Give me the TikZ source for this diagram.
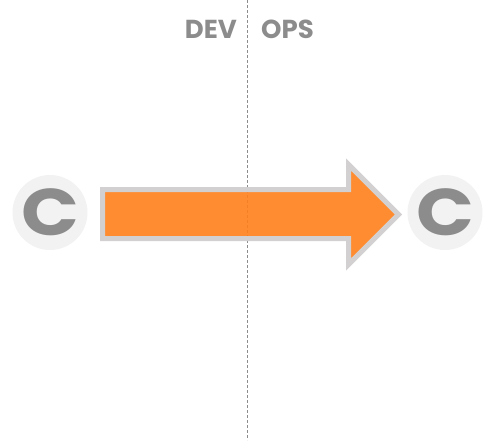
\documentclass[tikz,border=0pt]{standalone}
\usepackage{fontspec}
\setmainfont{Poppins}
\definecolor{dogray}{RGB}{140,140,140}
\definecolor{doorange}{RGB}{255,127,27}
\definecolor{doborder}{RGB}{210,208,208}
\definecolor{docircle}{RGB}{242,242,242}
\usetikzlibrary{positioning}

\begin{document}
\begin{tikzpicture}[x=1pt, y=-1pt]
    \tikzset{stagebox/.style={circle, fill=docircle, minimum size=75pt, inner sep=0pt}}
    \tikzset{stagelbl/.style={text=dogray, inner sep=0pt,
      font=\fontsize{66}{66}\selectfont\bfseries}}
    \tikzset{headlbl/.style={text=dogray, font=\fontsize{26}{26}\selectfont\bfseries, inner sep=0pt}}
    \useasboundingbox (0,0) rectangle (500,440);

    % Divider
    \coordinate (top) at (247,0);
    \coordinate (bottom) at (247,440);
    \draw[dogray, line width=1pt, dash pattern=on 3pt off 2pt] (top) -- (bottom);

    % Titles
    \node[headlbl, anchor=east] (dev) at (237,29) {DEV};
    \node[headlbl, anchor=west] (ops) at (261,29) {OPS};

    % Stage circles
    \node[stagebox] (devc) at (50,212.5) {};
    \node[stagebox] (opsc) at (445,212.5) {};
    \node[stagelbl, xscale=1.15, transform shape] (devl) at (devc) {C};
    \node[stagelbl, xscale=1.15, transform shape] (opsl) at (opsc) {C};

    % Big arrow
    \draw[doborder, line width=5pt, fill=doorange, fill opacity=0.9, miter limit=10]
      (102.5,189.5) -- (348.5,189.5) -- (348.5,164.5) -- (398.5,214.5)
      -- (348.5,264.5) -- (348.5,238.5) -- (102.5,238.5) -- cycle;
\end{tikzpicture}
\end{document}
